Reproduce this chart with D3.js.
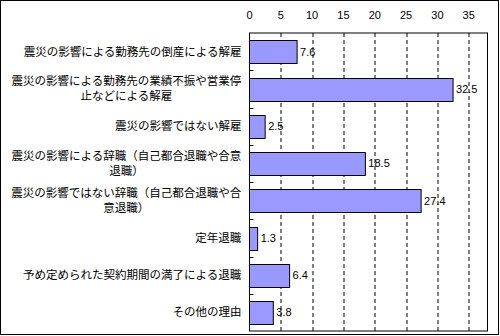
<!DOCTYPE html>
<html>
<head>
<meta charset="utf-8">
<script src="https://cdn.jsdelivr.net/npm/d3@7"></script>
<style>
  body { margin: 0; background: #fff; }
  text { font-family: "Noto Sans CJK JP", sans-serif; fill: #000; }
  .num { font-family: "Liberation Sans", Arial, sans-serif; font-size: 11px; }
</style>
</head>
<body>
<div id="chart"></div>
<script>
// categories (line breaks as in the original), values in %
const categories = [
  ['震災の影響による勤務先の倒産による解雇'],
  ['震災の影響による勤務先の業績不振や営業停', '止などによる解雇'],
  ['震災の影響ではない解雇'],
  ['震災の影響による辞職（自己都合退職や合意', '退職）'],
  ['震災の影響ではない辞職（自己都合退職や合', '意退職）'],
  ['定年退職'],
  ['予め定められた契約期間の満了による退職'],
  ['その他の理由']
];
const values = [7.6, 32.5, 2.5, 18.5, 27.4, 1.3, 6.4, 3.8];
const ticks = [0, 5, 10, 15, 20, 25, 30, 35];

const W = 500, H = 336;
const margin = {top: 33, right: 12, bottom: 5, left: 249.5};
const width = 487.5 - margin.left;
const height = 331 - margin.top;

const svg = d3.select('#chart').append('svg')
  .attr('width', W)
  .attr('height', H);

// outer frame
svg.append('rect')
  .attr('x', 0.5).attr('y', 0.5)
  .attr('width', 498).attr('height', 334)
  .attr('fill', 'none').attr('stroke', '#000');

const g = svg.append('g')
  .attr('transform', `translate(${margin.left}, ${margin.top})`);

const x = d3.scaleLinear().domain([0, 38]).range([0, width]);
const y = d3.scaleBand()
  .domain(d3.range(categories.length))
  .range([0, height])
  .paddingInner(0.39)
  .paddingOuter(0.195);
const band = d3.scaleBand().domain(d3.range(categories.length)).range([0, height]);

// dashed grid
g.selectAll('.grid')
  .data(ticks.filter(d => d > 0))
  .enter().append('line')
  .attr('x1', d => Math.round(x(d)) + 0.5)
  .attr('x2', d => Math.round(x(d)) + 0.5)
  .attr('y1', 0).attr('y2', height)
  .attr('stroke', '#000')
  .attr('stroke-dasharray', '4,3');

// top axis labels
g.selectAll('.tick-label')
  .data(ticks)
  .enter().append('text')
  .attr('class', 'num')
  .attr('x', d => x(d))
  .attr('y', -14)
  .attr('text-anchor', 'middle')
  .text(d => d);

// bars
g.selectAll('.bar')
  .data(values)
  .enter().append('rect')
  .attr('x', 0)
  .attr('y', (d, i) => Math.round(y(i)) + 0.5)
  .attr('width', d => x(d))
  .attr('height', Math.round(y.bandwidth()))
  .attr('fill', '#9999ff')
  .attr('stroke', '#000');

// value labels
g.selectAll('.val')
  .data(values)
  .enter().append('text')
  .attr('class', 'num')
  .attr('x', d => x(d) + 3)
  .attr('y', (d, i) => y(i) + y.bandwidth() / 2 + 4)
  .text(d => d);

// plot frame
g.append('rect')
  .attr('x', 0).attr('y', 0)
  .attr('width', width).attr('height', height)
  .attr('fill', 'none').attr('stroke', '#000');

// category separators (small ticks)
g.selectAll('.sep')
  .data(d3.range(1, categories.length))
  .enter().append('line')
  .attr('x1', 0).attr('x2', 4)
  .attr('y1', d => Math.round(band(d)) + 0.5)
  .attr('y2', d => Math.round(band(d)) + 0.5)
  .attr('stroke', '#000');

// category labels: block right-aligned, lines centred within block
const lh = 15;
categories.forEach((lines, i) => {
  const cy = band(i) + band.bandwidth() / 2;
  const t = g.append('text')
    .attr('font-size', 11.5)
    .attr('text-anchor', 'middle');
  lines.forEach((l, j) => {
    t.append('tspan')
      .attr('x', 0)
      .attr('y', cy + (j - (lines.length - 1) / 2) * lh + 4)
      .text(l);
  });
  const bb = t.node().getBBox();
  t.attr('transform', `translate(${-8 - bb.width / 2}, 0)`);
});
</script>
</body>
</html>
